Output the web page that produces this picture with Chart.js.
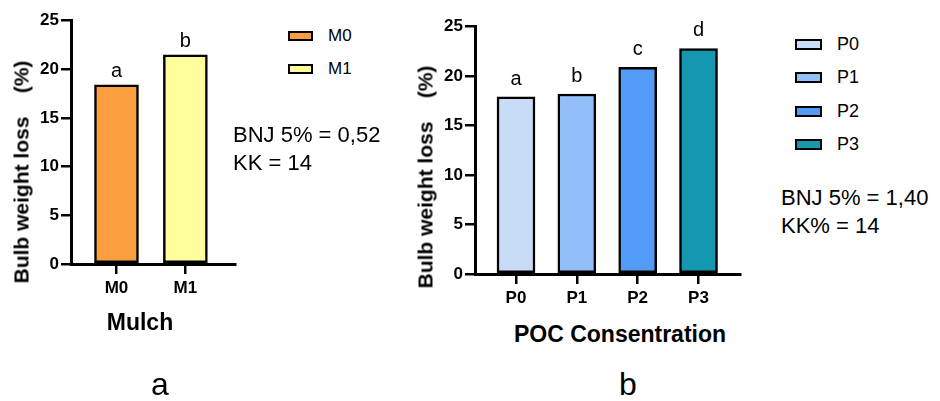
<!DOCTYPE html>
<html>
<head>
<meta charset="utf-8">
<script src="https://cdn.jsdelivr.net/npm/chart.js@4.4.1/dist/chart.umd.min.js"></script>
<style>
    html, body { margin: 0; padding: 0; background: #fff; }
    body { width: 940px; height: 401px; position: relative; overflow: hidden; font-family: "Liberation Sans", Arial, sans-serif; color: #000; }
    .box { position: absolute; }
    .txt { position: absolute; white-space: pre; line-height: 1; }
    .ytitle { font-weight: bold; font-size: 21px; transform: translate(-50%, -50%) rotate(-90deg); }
    .xtitle { font-weight: bold; font-size: 23px; transform: translate(-50%, -50%); }
    .legend-item { position: absolute; display: flex; align-items: center; }
    .swatch { box-sizing: border-box; border: 2px solid #000; }
    .stats { position: absolute; overflow: hidden; font-size: 22px; line-height: 28px; white-space: pre; }
    .caption { position: absolute; font-size: 32px; line-height: 1; transform: translate(-50%, -50%); }
</style>
</head>
<body>
<div class="box" id="mulch-wrap" style="left:0; top:0; width:240px; height:310px;"><canvas id="mulch-chart"></canvas></div>
<div class="box" id="poc-wrap" style="left:400px; top:0; width:345px; height:320px;"><canvas id="poc-chart"></canvas></div>

<div class="txt ytitle" style="left:21px; top:172px;">Bulb weight loss    (%)</div>
<div class="txt ytitle" style="left:425px; top:177px;">Bulb weight loss    (%)</div>
<div class="txt xtitle" style="left:140px; top:322px;">Mulch</div>
<div class="txt xtitle" style="left:620px; top:334px;">POC Consentration</div>

<div id="mulch-legend"></div>
<div id="poc-legend"></div>

<div class="stats" style="left:233px; top:121px; width:147px;">BNJ 5% = 0,52
KK = 14</div>
<div class="stats" style="left:781px; top:184px; width:159px;">BNJ 5% = 1,40
KK% = 14</div>

<div class="caption" style="left:160px; top:384px;">a</div>
<div class="caption" style="left:628px; top:384px;">b</div>

<script>
// --- Data ---
const mulchCats = ['M0', 'M1'];
const mulchValues = [18.4, 21.5];
const mulchLetters = ['a', 'b'];
const mulchColors = ['#FA9E40', '#FEFE9C'];

const pocCats = ['P0', 'P1', 'P2', 'P3'];
const pocValues = [17.9, 18.2, 20.9, 22.8];
const pocLetters = ['a', 'b', 'c', 'd'];
const pocColors = ['#C8DCF8', '#92BEFA', '#529CF8', '#1697B0'];

const yTicks = [0, 5, 10, 15, 20, 25];

const FONT = '"Liberation Sans", Arial, sans-serif';

// --- Letters above the bars ---
const barLetters = {
    id: 'barLetters',
    afterDatasetsDraw(chart, args, opts) {
        const ctx = chart.ctx;
        const meta = chart.getDatasetMeta(0);
        ctx.save();
        ctx.font = '20px ' + FONT;
        ctx.fillStyle = '#000';
        ctx.textAlign = 'center';
        ctx.textBaseline = 'alphabetic';
        meta.data.forEach((bar, i) => {
            ctx.fillText(opts.letters[i], bar.x, bar.y - opts.gap);
        });
        ctx.restore();
    },
};

function makeChart(canvasId, cats, values, colors, letters, cfg) {
    const ctx = document.getElementById(canvasId).getContext('2d');
    return new Chart(ctx, {
        type: 'bar',
        data: {
            datasets: [{
                data: cats.map((c, i) => ({ x: i, y: values[i] })),
                backgroundColor: colors,
                borderColor: '#000',
                borderWidth: 2.5,
                borderSkipped: false,
                barThickness: cfg.barWidth,
            }],
        },
        plugins: [barLetters],
        options: {
            responsive: true,
            maintainAspectRatio: false,
            animation: false,
            layout: { padding: { top: cfg.top, right: 5, left: 0, bottom: 0 } },
            scales: {
                x: {
                    type: 'linear',
                    offset: false,
                    min: cfg.xMin,
                    max: cfg.xMax,
                    afterBuildTicks: (s) => { s.ticks = cats.map((c, i) => ({ value: i })); },
                    afterFit: (s) => { s.height = cfg.xHeight; },
                    ticks: {
                        callback: (v) => cats[v],
                        color: '#000',
                        padding: 4,
                        maxRotation: 0,
                        font: { family: FONT, size: 17, weight: 'bold' },
                    },
                    grid: { offset: false, drawOnChartArea: false, tickLength: 10, color: '#000', lineWidth: 2.5 },
                    border: { color: '#000', width: 3 },
                },
                y: {
                    min: 0,
                    max: 25,
                    afterBuildTicks: (s) => { s.ticks = yTicks.map((v) => ({ value: v })); },
                    afterFit: (s) => { s.width = cfg.yWidth; },
                    ticks: {
                        color: '#000',
                        padding: 2,
                        font: { family: FONT, size: 17, weight: 'bold' },
                    },
                    grid: { drawOnChartArea: false, tickLength: 10, color: '#000', lineWidth: 2.5 },
                    border: { color: '#000', width: 3 },
                },
            },
            plugins: {
                legend: { display: false },
                tooltip: { enabled: false },
                barLetters: { letters: letters, gap: cfg.letterGap },
            },
        },
    });
}

// Mulch chart: axis box 71..235 x, 20.7..264 y
makeChart('mulch-chart', mulchCats, mulchValues, mulchColors, mulchLetters, {
    top: 20.7, yWidth: 71, xHeight: 310 - 264,
    xMin: -0.66, xMax: 1.72, barWidth: 44, letterGap: 8,
});

// POC chart: axis box 475..740 x, 26.7..274 y
makeChart('poc-chart', pocCats, pocValues, pocColors, pocLetters, {
    top: 26.7, yWidth: 75, xHeight: 320 - 274,
    xMin: -0.674, xMax: 3.682, barWidth: 38, letterGap: 12,
});

// --- Legends ---
function buildLegend(elId, cats, colors, opt) {
    const el = document.getElementById(elId);
    cats.forEach((c, i) => {
        const item = document.createElement('div');
        item.className = 'legend-item';
        item.style.left = opt.x + 'px';
        item.style.top = (opt.y + i * opt.step - opt.h) + 'px';
        item.style.height = (opt.h * 2) + 'px';
        item.style.fontSize = opt.size + 'px';
        const sw = document.createElement('div');
        sw.className = 'swatch';
        sw.style.width = opt.bw + 'px';
        sw.style.height = opt.bh + 'px';
        sw.style.background = colors[i];
        sw.style.marginRight = opt.gap + 'px';
        const label = document.createElement('span');
        label.textContent = c;
        item.appendChild(sw);
        item.appendChild(label);
        el.appendChild(item);
    });
}

buildLegend('mulch-legend', mulchCats, mulchColors, { x: 288, y: 36, step: 33, h: 12, bw: 25, bh: 10, gap: 15, size: 17 });
buildLegend('poc-legend', pocCats, pocColors, { x: 795, y: 44.5, step: 33.3, h: 12, bw: 27, bh: 11, gap: 15, size: 18 });
</script>
</body>
</html>
